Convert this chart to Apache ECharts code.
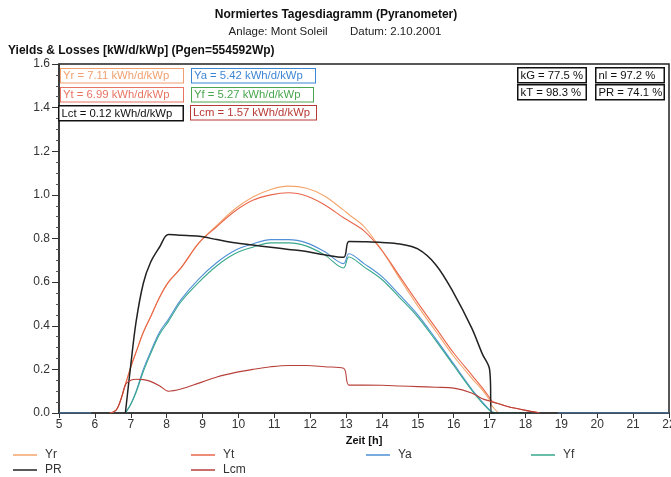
<!DOCTYPE html>
<html>
<head>
<meta charset="utf-8">
<script src="https://cdn.jsdelivr.net/npm/echarts@6/dist/echarts.min.js"></script>
<style>
  html, body { margin: 0; padding: 0; background: #fff; }
  #chart { width: 671px; height: 477px; }
</style>
</head>
<body>
<div id="chart"></div>
<script>
// time of day [h], null = no data
const hours = [5.0, 5.9, 6.0, 6.42, 6.6, 6.75, 6.85, 7.0, 7.15, 7.35, 7.55, 7.8, 8.05, 8.4, 8.9, 9.4, 9.9, 10.4, 10.9, 11.4, 11.9, 12.4, 12.93, 13.08, 13.5, 14.0, 14.5, 15.0, 15.5, 16.0, 16.5, 16.8, 17.0, 17.06, 17.3, 17.5, 18.0, 18.4, 18.6, 18.9, 22.0]
const yr  = [null, null, null, 0, 0.015, 0.075, 0.13, 0.21, 0.28, 0.37, 0.44, 0.53, 0.60, 0.665, 0.78, 0.86, 0.935, 0.99, 1.025, 1.04, 1.03, 0.995, 0.93, 0.91, 0.855, 0.745, 0.615, 0.49, 0.375, 0.26, 0.16, 0.105, 0.06, 0.035, 0, 0, 0, 0, null, null, null]
const yt  = [null, null, null, 0, 0.015, 0.075, 0.13, 0.21, 0.28, 0.37, 0.44, 0.53, 0.60, 0.665, 0.78, 0.855, 0.925, 0.975, 1.0, 1.01, 0.995, 0.955, 0.895, 0.88, 0.835, 0.745, 0.625, 0.505, 0.39, 0.275, 0.175, 0.115, 0.07, 0.055, 0.04, 0.03, 0.012, 0, null, null, null]
const ya  = [0, 0, null, null, null, null, 0, 0.04, 0.10, 0.20, 0.28, 0.37, 0.43, 0.52, 0.615, 0.69, 0.745, 0.775, 0.795, 0.795, 0.78, 0.74, 0.685, 0.73, 0.685, 0.625, 0.54, 0.45, 0.34, 0.225, 0.11, 0.05, 0.015, 0.005, 0, 0, 0, 0, null, 0, 0]
const yf  = [null, null, null, null, null, null, 0, 0.04, 0.095, 0.19, 0.27, 0.36, 0.42, 0.51, 0.60, 0.675, 0.73, 0.76, 0.78, 0.78, 0.765, 0.725, 0.665, 0.715, 0.67, 0.612, 0.528, 0.44, 0.332, 0.218, 0.105, 0.045, 0.012, 0.004, 0, 0, 0, 0, null, null, null]
const pr  = [null, null, null, null, null, null, 0, 0.22, 0.42, 0.595, 0.69, 0.76, 0.818, 0.815, 0.81, 0.795, 0.78, 0.77, 0.76, 0.75, 0.74, 0.725, 0.714, 0.786, 0.785, 0.782, 0.775, 0.752, 0.68, 0.55, 0.39, 0.27, 0.2, 0, 0, 0, 0, 0, null, null, null]
const lcm = [null, null, null, 0, 0.015, 0.075, 0.13, 0.15, 0.155, 0.153, 0.145, 0.125, 0.10, 0.11, 0.137, 0.165, 0.185, 0.20, 0.212, 0.218, 0.218, 0.212, 0.205, 0.128, 0.128, 0.127, 0.124, 0.121, 0.118, 0.114, 0.092, 0.065, 0.055, 0.05, 0.04, 0.03, 0.012, 0, null, null, null]

const boxesLeft = [
  { text: 'Yr = 7.11 kWh/d/kWp', color: '#f0a070', x: 60, y: 68, w: 123 },
  { text: 'Ya = 5.42 kWh/d/kWp', color: '#3d86d4', x: 191, y: 68, w: 124 },
  { text: 'Yt = 6.99 kWh/d/kWp', color: '#e87462', x: 60, y: 87, w: 123 },
  { text: 'Yf = 5.27 kWh/d/kWp', color: '#4aa64e', x: 191, y: 87, w: 122 },
  { text: 'Lct = 0.12 kWh/d/kWp', color: '#111', x: 58, y: 105, w: 124, bw: 1.5 },
  { text: 'Lcm = 1.57 kWh/d/kWp', color: '#b83a36', x: 190, y: 105, w: 126 },
  { text: 'kG = 77.5 %', color: '#111', x: 517, y: 67, w: 68, bw: 1.5 },
  { text: 'nl = 97.2 %', color: '#111', x: 595, y: 67, w: 68, bw: 1.5 },
  { text: 'kT = 98.3 %', color: '#111', x: 517, y: 84, w: 68, bw: 1.5 },
  { text: 'PR = 74.1 %', color: '#111', x: 595, y: 84, w: 68, bw: 1.5 },
]

const colors = {
  Yr: '#f4a56c',
  Yt: '#e8664a',
  Ya: '#4f90d6',
  Yf: '#38a88c',
  PR: '#222222',
  Lcm: '#b8403a',
}

const FONT = '"Liberation Sans", Arial, sans-serif'
const chart = echarts.init(document.getElementById('chart'))

const toData = arr => hours.map((h, i) => [h, arr[i] === null ? '-' : arr[i]])

const makeSeries = (name, arr, width) => ({
  name,
  type: 'line',
  data: toData(arr),
  showSymbol: false,
  smooth: 0.35,
  connectNulls: false,
  color: colors[name],
  lineStyle: { width: width || 1.1, color: colors[name] },
  animation: false,
})

const legendPos = [
  { name: 'Yr', left: 13, top: 449 },
  { name: 'Yt', left: 191, top: 449 },
  { name: 'Ya', left: 366, top: 449 },
  { name: 'Yf', left: 531, top: 449 },
  { name: 'PR', left: 13, top: 464 },
  { name: 'Lcm', left: 191, top: 464 },
]

const option = {
  backgroundColor: '#fff',
  animation: false,
  title: [
    {
      text: 'Normiertes Tagesdiagramm (Pyranometer)',
      left: 336, top: 9, textAlign: 'center', padding: 0,
      textStyle: { fontFamily: FONT, fontSize: 12, fontWeight: 'bold', color: '#111' },
    },
    {
      text: 'Anlage: Mont Soleil       Datum: 2.10.2001',
      left: 335, top: 26, textAlign: 'center', padding: 0,
      textStyle: { fontFamily: FONT, fontSize: 11.5, fontWeight: 'normal', color: '#222' },
    },
    {
      text: 'Yields & Losses [kW/d/kWp] (Pgen=554592Wp)',
      left: 8, top: 45, padding: 0,
      textStyle: { fontFamily: FONT, fontSize: 12, fontWeight: 'bold', color: '#111' },
    },
  ],
  legend: legendPos.map(l => ({
    data: [l.name],
    left: l.left,
    top: l.top,
    padding: 0,
    icon: 'rect',
    itemWidth: 24,
    itemHeight: 1.5,
    itemGap: 0,
    textStyle: { fontFamily: FONT, fontSize: 12, color: '#333', padding: [0, 0, 0, 3] },
    selectedMode: false,
  })),
  grid: {
    left: 59, right: 2, top: 64, bottom: 64,
    outerBoundsMode: 'none',
    show: true, borderColor: '#222', borderWidth: 1.5,
  },
  xAxis: {
    type: 'value',
    min: 5, max: 22, interval: 1,
    name: 'Zeit [h]',
    nameLocation: 'middle',
    nameGap: 19,
    nameTextStyle: { fontFamily: FONT, fontSize: 11, fontWeight: 'bold', color: '#111' },
    axisLine: { lineStyle: { color: '#333', width: 1.5 } },
    axisTick: { length: 5, lineStyle: { color: '#333' } },
    axisLabel: { fontFamily: FONT, fontSize: 12, color: '#333', margin: 6 },
    splitLine: { show: false },
  },
  yAxis: {
    type: 'value',
    min: 0, max: 1.6, interval: 0.2,
    axisLine: { show: true, lineStyle: { color: '#333', width: 1.5 } },
    axisTick: { show: true, length: 7, lineStyle: { color: '#333' } },
    minorTick: { show: true, splitNumber: 4, length: 3, lineStyle: { color: '#555' } },
    axisLabel: {
      fontFamily: FONT, fontSize: 12, color: '#333', margin: 9,
      formatter: v => v.toFixed(1),
    },
    splitLine: { show: false },
  },
  graphic: boxesLeft.map(b => ({
    type: 'text',
    left: b.x,
    top: b.y,
    z: 100,
    style: {
      text: b.text,
      font: '11.3px ' + FONT,
      fill: b.color,
      width: b.w - 6,
      overflow: 'none',
      borderColor: b.color,
      borderWidth: b.bw || 1,
      backgroundColor: '#fff',
      padding: [1.5, 3, 1, 2],
    },
  })),
  series: [
    makeSeries('Yr', yr),
    makeSeries('Yt', yt),
    makeSeries('Ya', ya),
    makeSeries('Yf', yf),
    makeSeries('PR', pr, 1.5),
    makeSeries('Lcm', lcm),
  ],
}

chart.setOption(option)
</script>
</body>
</html>
